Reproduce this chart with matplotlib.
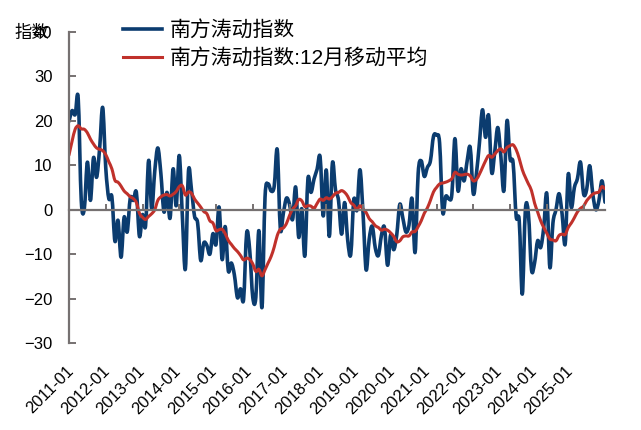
import matplotlib
matplotlib.use("Agg")
import matplotlib.pyplot as plt
from matplotlib.path import Path
from matplotlib.patches import PathPatch
from matplotlib.lines import Line2D
import numpy as np

plt.rcParams['font.family'] = ['Liberation Sans', 'Noto Sans CJK SC', 'DejaVu Sans']

# Monthly Southern Oscillation Index, 2011-01 .. 2025-08
soi = [
    19.9, 22.3, 21.4, 25.1, 2.1, 0.2, 10.7, 2.1, 11.7, 7.3, 13.8, 23.0,
    9.4, 2.5, 2.9, -7.1, -2.4, -10.7, -1.7, -5.0, 2.6, 2.1, 3.9, -6.0,
    -1.1, -3.6, 11.1, 0.2, 8.7, 13.9, 8.1, -0.5, 3.9, -1.9, 9.2, 0.9,
    12.2, -1.3, -13.3, 8.6, 4.4, -1.5, -3.0, -11.4, -7.5, -8.0, -10.0, -5.4,
    -7.8, 0.6, -11.2, -3.8, -13.7, -12.0, -14.7, -19.8, -17.8, -20.2, -5.3, -9.1,
    -19.7, -19.7, -4.7, -22.0, 2.8, 5.8, 4.2, 5.3, 13.5, -4.3, -0.7, 2.6,
    1.2, -2.2, 5.1, -6.2, 0.2, -10.4, 6.9, 3.9, 6.9, 9.1, 11.8, -1.4,
    8.9, -6.0, 10.5, 4.5, 2.1, -5.5, 1.6, -6.9, -10.0, 2.3, -0.1, 9.0,
    -0.8, -13.5, -6.7, -3.7, -8.6, -10.3, -5.8, -4.0, -12.5, -5.7, -9.0, -5.7,
    1.2, -1.9, -5.0, -3.5, 2.5, -9.6, 8.2, 11.0, 7.5, 9.5, 11.0, 16.5,
    16.8, 15.0, -0.5, 3.0, 2.5, 3.5, 16.0, 4.3, 9.2, 6.5, 11.0, 14.0,
    3.6, 8.0, 15.0, 22.5, 16.3, 21.2, 8.4, 13.0, 18.5, 12.0, 4.3, 20.0,
    11.5, 10.5, -1.5, -2.5, -19.0, 0.0, -1.0, -13.5, -12.0, -7.0, -8.5, -4.0,
    3.6, -13.0, -3.0, 0.0, 3.6, -1.0, -7.7, 8.0, 0.5, 5.0, 7.0, 10.7,
    3.6, 4.5, 9.9, 3.6, 0.0, 2.0, 6.5, 1.7,
]

# 12-month moving average as shown in the chart
soi_ma12 = [
    12.3, 15.4, 18.1, 18.9, 18.2, 18.1, 17.3, 15.9, 14.8, 13.9, 13.6, 13.3,
    12.4, 10.8, 9.2, 6.6, 6.2, 5.3, 4.2, 3.6, 2.9, 2.5, 1.6, -0.8,
    -1.7, -2.2, -1.5, -0.9, 0.0, 2.1, 2.9, 3.3, 3.4, 3.1, 3.5, 4.1,
    5.2, 5.4, 3.3, 4.0, 3.7, 2.4, 1.5, 0.6, -0.4, -0.9, -2.5, -3.0,
    -4.7, -4.5, -4.4, -5.4, -6.9, -7.8, -8.7, -9.4, -10.3, -11.3, -10.9, -11.2,
    -12.2, -13.9, -13.4, -14.9, -13.5, -12.0, -10.5, -8.4, -5.8, -4.4, -4.1, -3.1,
    -1.3, 0.1, 0.9, 2.3, 2.0, 0.7, 0.9, 0.8, 0.3, 1.4, 2.4, 2.1,
    2.7, 2.4, 2.9, 3.7, 3.9, 4.3, 3.9, 3.0, 1.6, 1.0, 0.0, 0.9,
    0.1, -0.6, -2.0, -2.7, -3.6, -4.0, -4.6, -4.4, -4.6, -5.2, -6.0, -7.2,
    -7.0, -6.1, -5.9, -5.9, -5.0, -4.9, -3.8, -2.5, -0.8, 0.4, 2.1, 4.0,
    5.0, 5.8, 6.0, 6.2, 6.5, 7.0, 8.4, 8.0, 7.8, 7.9, 8.0, 7.6,
    6.5, 6.8, 8.0, 9.5, 11.0, 12.2, 11.8, 12.5, 13.3, 13.7, 13.0, 14.0,
    14.4, 14.6, 13.5, 11.5, 9.0, 7.3, 5.8, 4.3, 1.5, -0.5, -2.5, -4.0,
    -5.3, -6.6, -6.8, -7.0, -5.8, -5.5, -5.6, -4.0, -3.0, -1.8, -0.5, 0.3,
    0.8, 2.0, 2.8, 3.5, 3.8, 4.0, 5.2, 4.7,
]

tick_labels = ["2011-01", "2012-01", "2013-01", "2014-01", "2015-01",
               "2016-01", "2017-01", "2018-01", "2019-01", "2020-01",
               "2021-01", "2022-01", "2023-01", "2024-01", "2025-01"]

BLUE = "#0B3C6F"
RED = "#C0312B"
GRAY = "#767171"


def smooth_path(xs, ys):
    # smoothed line through every point (cubic Bezier segments, like Excel's smoothed line)
    n = len(xs)
    verts = [(xs[0], ys[0])]
    codes = [Path.MOVETO]
    for i in range(n - 1):
        a = max(i - 1, 0)
        b = min(i + 2, n - 1)
        c1 = (xs[i] + (xs[i + 1] - xs[a]) / 6, ys[i] + (ys[i + 1] - ys[a]) / 6)
        c2 = (xs[i + 1] - (xs[b] - xs[i]) / 6, ys[i + 1] - (ys[b] - ys[i]) / 6)
        verts += [c1, c2, (xs[i + 1], ys[i + 1])]
        codes += [Path.CURVE4] * 3
    return Path(verts, codes)


x = np.arange(len(soi))

fig = plt.figure(figsize=(6.41, 4.30), dpi=100)
ax = fig.add_axes([69 / 641, 1 - 343 / 430, 536 / 641, 311 / 430])

ax.add_patch(PathPatch(smooth_path(x, soi), fill=False, edgecolor=BLUE, lw=2.6,
                       joinstyle="round", capstyle="round"))
ax.add_patch(PathPatch(smooth_path(x, soi_ma12), fill=False, edgecolor=RED, lw=2.2,
                       joinstyle="round", capstyle="round"))

ax.set_xlim(0, len(soi) - 1)
ax.set_ylim(-30, 40)
ax.set_yticks(range(-30, 41, 10))

# x axis line sits at zero
ax.spines["bottom"].set_position(("data", 0))
ax.spines[["top", "right"]].set_visible(False)
for s in ["left", "bottom"]:
    ax.spines[s].set_color(GRAY)
    ax.spines[s].set_linewidth(1.6)

ax.set_xticks(x[::12])
ax.set_xticklabels([])
ax.tick_params(axis="x", direction="in", length=4, width=1.4, color=GRAY)
ax.tick_params(axis="y", direction="in", length=5, width=1.4, color=GRAY,
               labelsize=12, pad=12)

# category labels along the bottom edge (placed like the original, slightly compressed)
for k, lab in enumerate(tick_labels):
    fig.text((66 + 35.64 * k) / 641, 1 - 363 / 430, lab, rotation=45,
             rotation_mode="anchor", ha="right", va="top", fontsize=12)

fig.text(14 / 641, 1 - 33 / 430, "指数", ha="left", va="center", fontsize=12.5)

handles = [Line2D([], [], color=BLUE, lw=2.6), Line2D([], [], color=RED, lw=2.2)]
fig.legend(handles, ["南方涛动指数", "南方涛动指数:12月移动平均"],
           loc="upper left", bbox_to_anchor=(123 / 641, 1 - 20 / 430),
           frameon=False, fontsize=15, borderpad=0, borderaxespad=0,
           handlelength=1.85, handletextpad=0.38, labelspacing=0.4)

fig.savefig("out.png", dpi=100)
plt.close(fig)
